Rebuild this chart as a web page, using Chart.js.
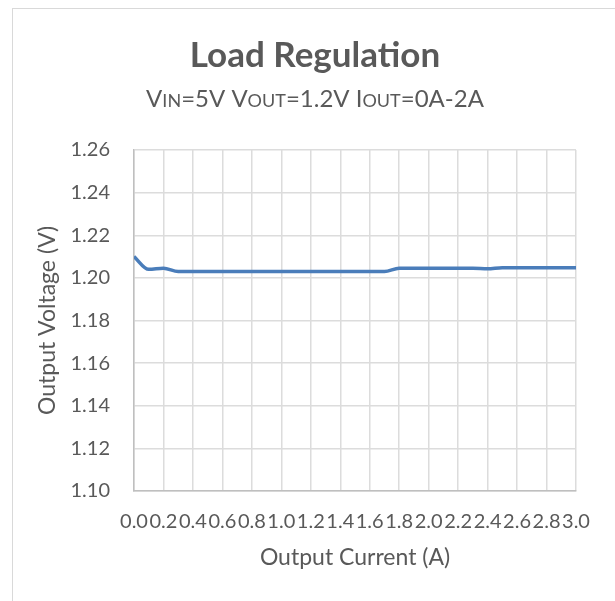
<!DOCTYPE html>
<html>
<head>
<meta charset="utf-8">
<script src="https://cdn.jsdelivr.net/npm/chart.js@4"></script>
<style>
  body { margin: 0; background: #fff; }
  #wrap { position: relative; width: 615px; height: 601px; overflow: hidden; }
  #frame { position: absolute; left: 12px; top: 8px; width: 640px; height: 640px; border: 1.5px solid #d9d9d9; }
  canvas { position: absolute; left: 0; top: 0; }
</style>
</head>
<body>
<div id="wrap">
  <div id="frame"></div>
  <canvas id="myChart" width="615" height="601"></canvas>
</div>
<script>
const current = [0.0, 0.1, 0.2, 0.3, 0.4, 0.5, 0.6, 0.7, 0.8, 0.9, 1.0, 1.1, 1.2, 1.3, 1.4, 1.5,
  1.6, 1.7, 1.8, 1.9, 2.0, 2.1, 2.2, 2.3, 2.4, 2.5, 2.6, 2.7, 2.8, 2.9, 3.0];
const voltage = [1.2100, 1.2040, 1.2045, 1.2030, 1.2030, 1.2030, 1.2030, 1.2030, 1.2030, 1.2030,
  1.2030, 1.2030, 1.2030, 1.2030, 1.2030, 1.2030, 1.2030, 1.2030, 1.2045, 1.2045,
  1.2045, 1.2045, 1.2045, 1.2045, 1.2043, 1.2048, 1.2048, 1.2048, 1.2048, 1.2048, 1.2048];
const titleText = "Load Regulation";
// subtitle pieces: [text, small caps?]
const subtitleRuns = [["V", false], ["IN", true], ["=5V V", false], ["OUT", true],
  ["=1.2V I", false], ["OUT", true], ["=0A-2A", false]];

const grey = "#595959";
const FONT = "Lato, 'Open Sans', sans-serif";

const headerPlugin = {
  id: "header",
  afterDraw(chart) {
    const c = chart.ctx;
    c.save();
    c.fillStyle = grey;
    c.textBaseline = "alphabetic";
    c.textAlign = "left";
    c.font = "bold 35px " + FONT;
    const tw = c.measureText(titleText).width;
    c.fillText(titleText, 315 - tw / 2, 67);

    // mixed size subtitle (small caps for IN / OUT)
    const big = "24px " + FONT, small = "18px " + FONT;
    let total = 0;
    subtitleRuns.forEach(([t, s]) => { c.font = s ? small : big; total += c.measureText(t).width; });
    let x = 315 - total / 2;
    subtitleRuns.forEach(([t, s]) => {
      c.font = s ? small : big;
      c.fillText(t, x, 107);
      x += c.measureText(t).width;
    });
    c.restore();
  }
};

new Chart(document.getElementById("myChart"), {
  type: "line",
  data: {
    datasets: [{
      data: current.map((x, i) => ({ x: x, y: voltage[i] })),
      borderColor: "#4a7dba",
      borderWidth: 3.5,
      pointRadius: 0,
      cubicInterpolationMode: "monotone",
      fill: false,
    }],
  },
  options: {
    responsive: false,
    animation: false,
    layout: { padding: { left: 30, right: 39, top: 150, bottom: 20 } },
    plugins: { legend: { display: false }, tooltip: { enabled: false } },
    scales: {
      x: {
        type: "linear",
        min: 0,
        max: 3,
        afterFit(scale) { scale.height = 90; },
        ticks: {
          stepSize: 0.2,
          autoSkip: false,
          maxRotation: 0,
          padding: 19,
          color: grey,
          font: { family: FONT, size: 20 },
          callback: (v) => v.toFixed(1),
        },
        grid: { color: "#dcdcdc", lineWidth: 1.5, drawTicks: false },
        border: { color: "#bfbfbf", width: 1.5 },
        title: {
          display: true,
          text: "Output Current (A)",
          color: grey,
          font: { family: FONT, size: 23 },
          padding: { top: 0, bottom: 10 },
        },
      },
      y: {
        min: 1.10,
        max: 1.26,
        afterFit(scale) { scale.width = 104; },
        ticks: {
          stepSize: 0.02,
          padding: 24,
          color: grey,
          font: { family: FONT, size: 20 },
          callback: (v) => v.toFixed(2),
        },
        grid: { color: "#dcdcdc", lineWidth: 1.5, drawTicks: false },
        border: { color: "#bfbfbf", width: 1.5 },
        title: {
          display: true,
          text: "Output Voltage (V)",
          color: grey,
          font: { family: FONT, size: 23 },
          padding: { top: 4, bottom: 0 },
        },
      },
    },
  },
  plugins: [headerPlugin],
});
</script>
</body>
</html>
